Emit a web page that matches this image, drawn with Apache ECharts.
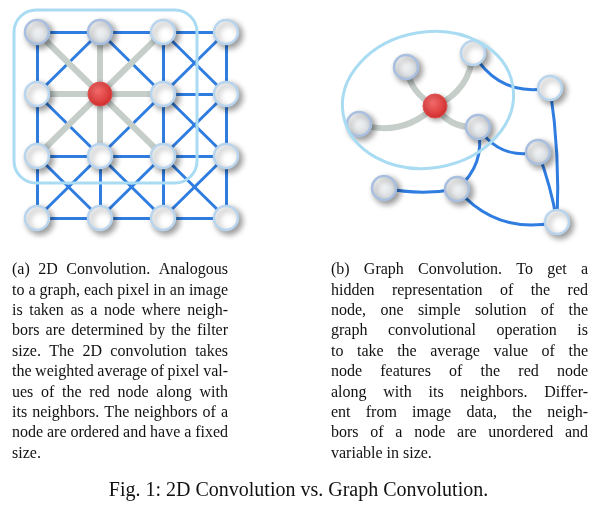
<!DOCTYPE html>
<html>
<head>
<meta charset="utf-8">
<script src="https://cdn.jsdelivr.net/npm/echarts@6/dist/echarts.min.js"></script>
<style>html,body{margin:0;padding:0;background:#fff}#main{width:597px;height:518px}</style>
</head>
<body>
<div id="main"></div>
<script>
var chartDom = document.getElementById('main');
var myChart = echarts.init(chartDom);

// left panel: grid columns / rows (pixel coords)
var gridX = [37, 100, 163, 226];
var gridY = [32, 94, 156, 218];
var redCell = [1, 1];

// right panel nodes
var gNodes = ['A', 'R', 'C', 'D', 'E', 'F', 'G', 'H', 'I', 'J'];
var gX = [406, 435, 359, 473, 478, 550, 538, 384, 457, 557];
var gY = [67, 106, 124, 53, 127, 88, 152, 188, 189, 222];
var grayLinks = [['A', 'R', -0.25], ['C', 'R', -0.3], ['D', 'R', 0.3], ['E', 'R', 0.3]];
var blueLinks = [['D', 'F', -0.35], ['F', 'J', 0.05], ['E', 'G', -0.35], ['G', 'J', 0.05],
                 ['E', 'I', 0.3], ['H', 'I', -0.1], ['I', 'J', -0.3]];

var capA = ['(a) 2D Convolution. Analogous', 'to a graph, each pixel in an image',
  'is taken as a node where neigh-', 'bors are determined by the filter',
  'size. The 2D convolution takes', 'the weighted average of pixel val-',
  'ues of the red node along with', 'its neighbors. The neighbors of a',
  'node are ordered and have a fixed', 'size.'];
var capB = ['(b) Graph Convolution. To get a', 'hidden representation of the red',
  'node, one simple solution of the', 'graph convolutional operation is',
  'to take the average value of the', 'node features of the red node',
  'along with its neighbors. Differ-', 'ent from image data, the neigh-',
  'bors of a node are unordered and', 'variable in size.'];
var figCap = 'Fig. 1: 2D Convolution vs. Graph Convolution.';

var whiteNode = {
  color: '#ffffff', borderColor: '#b9d5ee', borderWidth: 2.5,
  shadowColor: 'rgba(0,0,0,0.4)', shadowBlur: 6, shadowOffsetX: 3, shadowOffsetY: 3
};
var grayNode = Object.assign({}, whiteNode, {
  color: new echarts.graphic.RadialGradient(0.3, 0.3, 0.8, [{offset: 0, color: '#ffffff'}, {offset: 1, color: '#d3d8dc'}]),
  borderColor: '#a9bfdf'
});
var redNode = {
  color: new echarts.graphic.RadialGradient(0.4, 0.35, 0.7, [{offset: 0, color: '#f36b6b'}, {offset: 1, color: '#d42a2a'}]),
  borderColor: '#e05050', borderWidth: 1,
  shadowColor: 'rgba(0,0,0,0.35)', shadowBlur: 5, shadowOffsetX: 2, shadowOffsetY: 2
};
var blueLine = {color: '#2f7de1', width: 3, opacity: 1};
var grayLine = {color: '#c6ceca', width: 6, opacity: 1};

// build left grid graph
var lNodes = [], lLinks = [];
function nid(i, j) { return 'g' + i + '_' + j; }
for (var j = 0; j < gridY.length; j++) {
  for (var i = 0; i < gridX.length; i++) {
    var isRed = i === redCell[0] && j === redCell[1];
    var isTop = j === 0 && i < 2;
    lNodes.push({name: nid(i, j), value: [gridX[i], gridY[j]],
      symbolSize: 24,
      itemStyle: isRed ? redNode : (isTop ? grayNode : whiteNode)});
  }
}
function near(a, b) {
  return (a[0] === redCell[0] && a[1] === redCell[1]) || (b[0] === redCell[0] && b[1] === redCell[1]);
}
function addL(a, b) {
  lLinks.push({source: nid(a[0], a[1]), target: nid(b[0], b[1]),
    lineStyle: near(a, b) ? grayLine : blueLine});
}
for (var j = 0; j < 4; j++) {
  for (var i = 0; i < 4; i++) {
    if (i < 3) addL([i, j], [i + 1, j]);
    if (j < 3) addL([i, j], [i, j + 1]);
    if (i < 3 && j < 3) { addL([i, j], [i + 1, j + 1]); addL([i + 1, j], [i, j + 1]); }
  }
}
lLinks.sort(function (a, b) { return (a.lineStyle === grayLine) - (b.lineStyle === grayLine); });

var rNodes = gNodes.map(function (n, k) {
  var top = n === 'D' || n === 'F' || n === 'J';
  return {name: n, value: [gX[k], gY[k]], symbolSize: 24,
    itemStyle: n === 'R' ? redNode : (top ? whiteNode : grayNode)};
});
var rLinks = blueLinks.map(function (l) {
  return {source: l[0], target: l[1], lineStyle: Object.assign({curveness: l[2]}, blueLine)};
}).concat(grayLinks.map(function (l) {
  return {source: l[0], target: l[1], lineStyle: Object.assign({curveness: l[2]}, grayLine)};
}));

// justified caption lines: one text element per word
var capFont = '16px "Liberation Serif"';
var ctx = document.createElement('canvas').getContext('2d');
ctx.font = capFont;
var texts = [];
function column(lines, x0, x1) {
  lines.forEach(function (t, k) {
    var y = 262 + k * 20.4;
    var words = t.split(' ');
    var last = k === lines.length - 1;
    var widths = words.map(function (w) { return ctx.measureText(w).width; });
    var total = widths.reduce(function (a, b) { return a + b; }, 0);
    var gap = last ? ctx.measureText(' ').width : (x1 - x0 - total) / (words.length - 1);
    var x = x0;
    words.forEach(function (w, n) {
      texts.push({type: 'text', x: x, y: y, style: {text: w, font: capFont, fill: '#111'}});
      x += widths[n] + gap;
    });
  });
}
column(capA, 12, 228);
column(capB, 331, 588);
texts.push({type: 'text', left: 'center', top: 481,
  style: {text: figCap, font: '20px "Liberation Serif"', fill: '#111'}});

var option = {
  animation: false,
  grid: {left: 0, right: 0, top: 0, bottom: 0},
  xAxis: {type: 'value', min: 0, max: 597, show: false},
  yAxis: {type: 'value', min: 0, max: 518, inverse: true, show: false},
  graphic: [
    {type: 'rect', shape: {x: 14, y: 10, width: 183, height: 173, r: 22}, z: 10,
      style: {fill: 'none', stroke: '#a9dcf3', lineWidth: 3}},
    {type: 'ellipse', x: 428, y: 100, rotation: 0.17, shape: {cx: 0, cy: 0, rx: 86, ry: 68}, z: 10,
      style: {fill: 'none', stroke: '#a9dcf3', lineWidth: 3}}
  ].concat(texts),
  series: [
    {type: 'graph', coordinateSystem: 'cartesian2d', layout: 'none', data: lNodes, links: lLinks, z: 2},
    {type: 'graph', coordinateSystem: 'cartesian2d', layout: 'none', data: rNodes, links: rLinks, z: 2}
  ]
};

option && myChart.setOption(option);
</script>
</body>
</html>
